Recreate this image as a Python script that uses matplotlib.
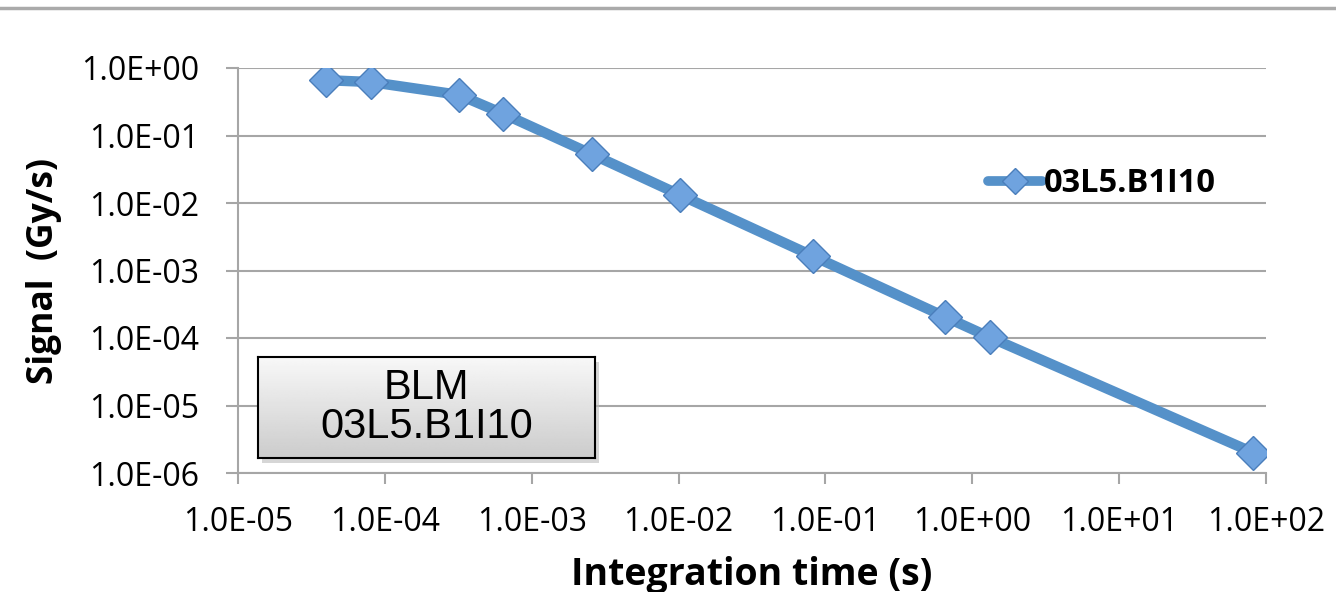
import matplotlib
matplotlib.use("Agg")
import matplotlib.pyplot as plt
import numpy as np
from matplotlib.lines import Line2D
from matplotlib.patches import Rectangle

# ---- data ----
integration_time = [4.0e-5, 8.0e-5, 3.2e-4, 6.4e-4, 2.56e-3, 1.02e-2, 8.2e-2, 0.655, 1.31, 82.0]
signal = [0.66, 0.62, 0.40, 0.21, 0.053, 0.0132, 1.64e-3, 2.05e-4, 1.03e-4, 2.0e-6]
series_name = "03L5.B1I10"
x_ticks = [1e-5, 1e-4, 1e-3, 1e-2, 1e-1, 1e0, 1e1, 1e2]
y_ticks = [1e-6, 1e-5, 1e-4, 1e-3, 1e-2, 1e-1, 1e0]
x_label = "Integration time (s)"
y_label = "Signal  (Gy/s)"
box_text = "BLM\n03L5.B1I10"

LINE = "#5591C9"
MFACE = "#6FA3DF"
MEDGE = "#4A7EBB"
GRID = "#A6A6A6"
FONT = "Open Sans"

fig = plt.figure(figsize=(13.36, 5.92), dpi=100)
fig.patch.set_facecolor("white")

# separator line at the top
fig.add_artist(Line2D([0, 1], [1 - 8 / 592, 1 - 8 / 592], transform=fig.transFigure,
                      color="#AAAAAA", lw=2.5))

ax = fig.add_axes([238 / 1336, 1 - 473 / 592, (1266 - 238) / 1336, (473 - 68) / 592])
ax.set_xscale("log")
ax.set_yscale("log")
ax.set_xlim(1e-5, 1e2)
ax.set_ylim(1e-6, 1e0)

ax.plot(integration_time, signal, color=LINE, lw=7.5, marker="D", markersize=17,
        markerfacecolor=MFACE, markeredgecolor=MEDGE, markeredgewidth=1.0,
        solid_joinstyle="round", solid_capstyle="round", label=series_name, zorder=3)

ax.set_xticks(x_ticks)
ax.set_yticks(y_ticks)
ax.xaxis.set_minor_locator(matplotlib.ticker.NullLocator())
ax.yaxis.set_minor_locator(matplotlib.ticker.NullLocator())
fmt = matplotlib.ticker.FuncFormatter(lambda v, p: f"{v:.1E}")
ax.xaxis.set_major_formatter(fmt)
ax.yaxis.set_major_formatter(fmt)

for lbl in ax.get_xticklabels() + ax.get_yticklabels():
    lbl.set_fontfamily(FONT)
    lbl.set_fontsize(23)

ax.tick_params(axis="x", length=8, width=1.5, color=GRID, pad=16, direction="out")
ax.tick_params(axis="y", length=9, width=1.5, color=GRID, pad=19, direction="out")

ax.yaxis.grid(True, color=GRID, lw=1.5)
ax.set_axisbelow(True)
for s in ["top", "right"]:
    ax.spines[s].set_visible(False)
for s in ["left", "bottom"]:
    ax.spines[s].set_color(GRID)
    ax.spines[s].set_linewidth(1.5)

ax.set_xlabel(x_label, fontfamily=FONT, fontweight="bold", fontsize=27, labelpad=12)
ax.set_ylabel(y_label, fontfamily=FONT, fontweight="bold", fontsize=25.5, labelpad=14)

leg = ax.legend(loc="center left", bbox_to_anchor=(988 / 1336, 1 - 184 / 592),
                bbox_transform=fig.transFigure, frameon=False, handlelength=1.65,
                handletextpad=0.05, borderpad=0, borderaxespad=0,
                prop={"family": FONT, "weight": "bold", "size": 23.5})
for h in leg.legend_handles:
    h.set_markersize(13)
    h.set_linewidth(7)

# text box with gradient fill and shadow
bx, by, bw, bh = 258 / 1336, 1 - 458 / 592, 337 / 1336, 101 / 592
fig.add_artist(Rectangle((bx + 4 / 1336, by - 5 / 592), bw, bh, transform=fig.transFigure,
                         facecolor="#BBBBBB", edgecolor="none", alpha=0.6, zorder=4))
bax = fig.add_axes([bx, by, bw, bh], zorder=5)
grad = np.linspace(0.97, 0.80, 100).reshape(-1, 1)
bax.imshow(grad, cmap="gray", vmin=0, vmax=1, aspect="auto", extent=[0, 1, 0, 1])
bax.set_xticks([])
bax.set_yticks([])
for s in bax.spines.values():
    s.set_color("black")
    s.set_linewidth(1.5)
bax.text(0.5, 0.5, box_text, ha="center", va="center", fontsize=30,
         fontfamily="Liberation Sans", linespacing=0.95, transform=bax.transAxes)

fig.savefig("out.png", dpi=100)
